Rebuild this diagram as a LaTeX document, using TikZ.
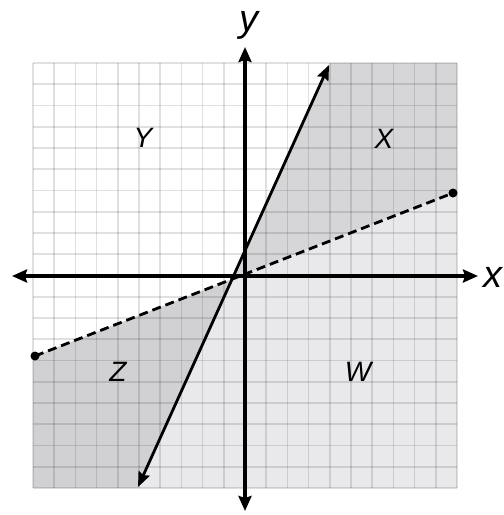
\documentclass[tikz,border=0pt]{standalone}
\usepackage{fontspec}
\setmainfont{Liberation Sans}
\usetikzlibrary{arrows.meta}
\definecolor{regX}{RGB}{214,214,217}
\definecolor{regW}{RGB}{233,233,235}
\definecolor{regZ}{RGB}{209,209,211}
\begin{document}
\begin{tikzpicture}[x=1pt,y=-1pt,
  gridline/.style={draw=black, draw opacity=0.12, line width=1.7pt},
  axisline/.style={line width=3.4pt, {Stealth[length=15pt,width=13pt,inset=2pt]}-{Stealth[length=15pt,width=13pt,inset=2pt]}},
  solidline/.style={line width=2.8pt, {Stealth[length=15pt,width=12pt,inset=2pt]}-{Stealth[length=15pt,width=12pt,inset=2pt]}},
  dashline/.style={line width=2.8pt, dash pattern=on 9pt off 5pt},
  enddot/.style={circle, fill=black, inner sep=0pt, minimum size=9pt},
  axlabel/.style={font=\fontsize{38}{38}\selectfont\itshape, inner sep=0pt},
  reglabel/.style={font=\fontsize{28}{28}\selectfont\itshape, inner sep=0pt}]
\useasboundingbox (0,0) rectangle (504,515);
% boundary points
\coordinate (gtl) at (33,63);
\coordinate (gtr) at (457,63);
\coordinate (gbr) at (457,488);
\coordinate (gbl) at (33,488);
\coordinate (st) at (330,63);
\coordinate (sb) at (137.5,488);
\coordinate (dl) at (33,356.8);
\coordinate (dr) at (457,191.4);
\coordinate (I) at (intersection of st--sb and dl--dr);
% regions
\fill[regX] (st) -- (gtr) -- (dr) -- (I) -- cycle;
\fill[regW] (I) -- (dr) -- (gbr) -- (sb) -- cycle;
\fill[regZ] (dl) -- (I) -- (sb) -- (gbl) -- cycle;
% grid
\foreach \i in {0,...,20} {
  \draw[gridline] ({33+21.2*\i},63) -- ({33+21.2*\i},488);
  \draw[gridline] (33,{63+21.25*\i}) -- (457,{63+21.25*\i});
}
% axes
\coordinate (xl) at (12,276);
\coordinate (xr) at (478,276);
\coordinate (yt) at (245,47);
\coordinate (yb) at (245,511);
\draw[axisline] (xl) -- (xr);
\draw[axisline] (yb) -- (yt);
\node[axlabel] (xlab) at (493,277) {x};
\node[axlabel] (ylab) at (249,25) {y};
% lines
\coordinate (p1) at (329,65);
\coordinate (p2) at (138,487);
\draw[solidline] (p2) -- (p1);
\node[enddot] (d1) at (35,356) {};
\node[enddot] (d2) at (453,193) {};
\draw[dashline] (d1.center) -- (d2.center);
% region labels
\node[reglabel] (lY) at (143,138) {Y};
\node[reglabel] (lX) at (384,139) {X};
\node[reglabel] (lZ) at (118,372) {Z};
\node[reglabel] (lW) at (358,372) {W};
\end{tikzpicture}
\end{document}
